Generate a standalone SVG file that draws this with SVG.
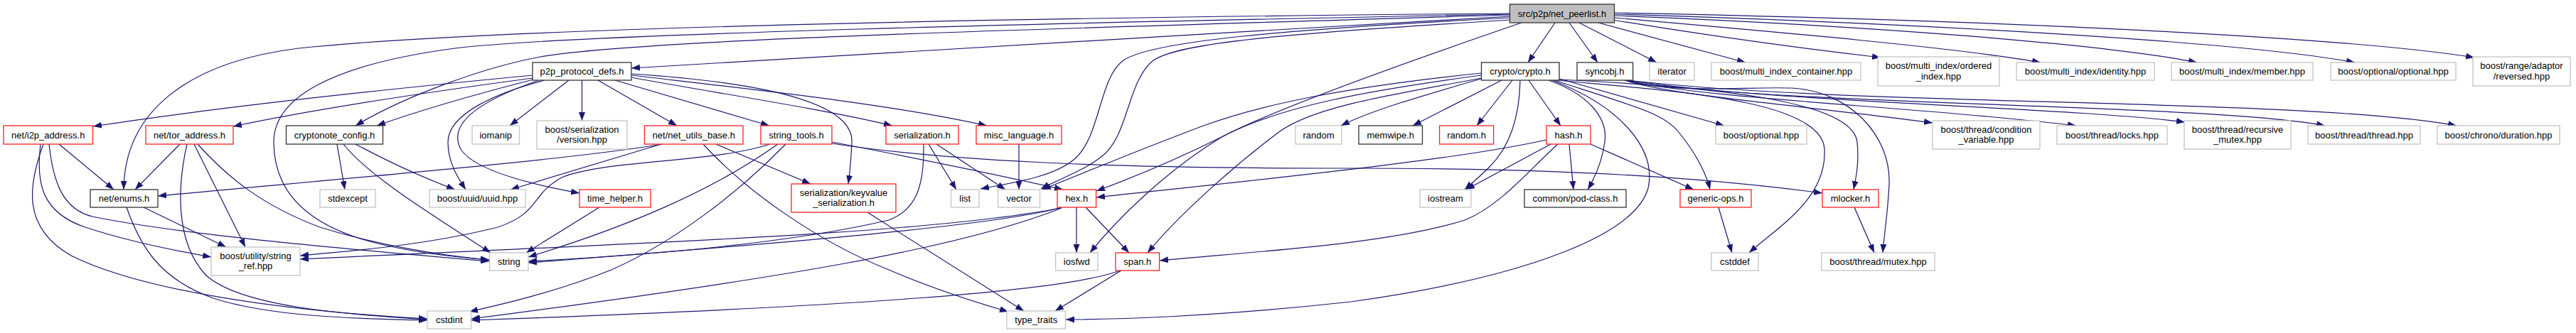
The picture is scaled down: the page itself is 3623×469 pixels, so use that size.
<svg xmlns="http://www.w3.org/2000/svg" width="3623" height="469" viewBox="0 0 3623 469">
<defs>
<marker id="a" viewBox="0 0 12 9" markerWidth="12" markerHeight="9" refX="12" refY="4.5" orient="auto" markerUnits="userSpaceOnUse">
<path d="M0,0 L12,4.5 L0,9 z" fill="#191970"/>
</marker>
</defs>
<style>
.n rect{fill:#ffffff;stroke-width:1.3}
.blk rect{stroke:#333333}
.red rect{stroke:#ff2020}
.gry rect{stroke:#c4c4c4}
.top rect{fill:#bfbfbf;stroke:#333333}
text{font-family:"Liberation Sans",Arial,sans-serif;font-size:13px;fill:#000000;text-anchor:middle}
.e path{fill:none;stroke:#191970;stroke-width:1.2;marker-end:url(#a)}
</style>
<rect x="0" y="0" width="3623" height="469" fill="#ffffff"/>
<g id="edges" class="e">
<path d="M2187,32 L2149,88"/>
<path d="M2207,32 L2247,88"/>
<path d="M2221,32 L2330,88"/>
<path d="M2248,32 L2455,88"/>
<path d="M2268,28 C2400,50 2550,70 2645,81"/>
<path d="M2271,25 C2500,45 2760,68 2870,88"/>
<path d="M2271,22 C2600,35 2950,60 3090,88"/>
<path d="M2271,20 C2700,33 3150,58 3312,88"/>
<path d="M2271,18 C2800,28 3300,52 3480,81"/>
<path d="M2124,23 C1700,48 1200,75 888,96"/>
<path d="M2124,21 C1500,40 900,55 760,80 C680,95 570,135 500,177"/>
<path d="M2124,19 C1500,24 700,38 420,68 C260,88 175,160 174,267"/>
<path d="M2124,20 C1500,32 800,48 640,68 C460,92 385,140 385,200 C385,275 440,318 520,340 C580,356 640,362 688,366"/>
<path d="M2124,25 C1800,42 1620,58 1580,85 C1545,110 1548,195 1510,225 C1480,250 1420,258 1379,266"/>
<path d="M2124,28 C1800,48 1660,60 1622,85 C1585,115 1588,190 1550,220 C1525,240 1490,252 1464,266"/>
<path d="M2140,32 C2000,80 1800,150 1720,192 C1640,240 1570,310 1533,356"/>
<path d="M2138,113 C2137,170 2120,210 2095,235 C2082,248 2070,258 2060,267"/>
<path d="M2150,113 L2195,177"/>
<path d="M2178,113 C2232,132 2262,165 2257,200 C2253,230 2242,252 2233,267"/>
<path d="M2183,113 C2280,150 2330,210 2318,265 C2300,330 2150,390 1900,425 C1700,447 1560,450 1499,450"/>
<path d="M2186,113 C2300,150 2340,160 2360,185 C2385,215 2400,245 2405,267"/>
<path d="M2190,110 L2425,177"/>
<path d="M2190,113 C2350,128 2562,140 2566,210 C2570,280 2500,320 2460,356"/>
<path d="M2192,112 C2400,122 2605,140 2612,200 C2615,230 2610,252 2607,267"/>
<path d="M2083,111 C2000,135 1930,155 1886,177"/>
<path d="M2112,113 L1987,177"/>
<path d="M2127,113 L2077,177"/>
<path d="M2083,103 C1900,122 1780,145 1690,178 C1600,212 1520,245 1466,267"/>
<path d="M2083,106 C1920,128 1800,150 1720,192 C1640,232 1580,255 1542,269"/>
<path d="M2084,110 C1950,135 1850,150 1800,185 C1740,230 1660,300 1614,356"/>
<path d="M2285,113 C2350,135 2550,150 2718,173"/>
<path d="M2287,113 C2400,140 2700,150 2920,177"/>
<path d="M2288,113 C2500,145 2900,150 3073,172"/>
<path d="M2289,113 C2500,150 3100,145 3270,177"/>
<path d="M2290,113 C2600,150 3250,138 3455,177"/>
<path d="M2286,113 C2350,132 2450,122 2520,124 C2600,128 2660,190 2657,260 C2655,300 2650,330 2648,356"/>
<path d="M800,113 L717,177"/>
<path d="M818.5,113 L818.5,170"/>
<path d="M841,113 L952,177"/>
<path d="M865,113 L1082,177"/>
<path d="M888,109 C1000,130 1150,152 1255,177"/>
<path d="M888,106 C1050,125 1250,146 1388,177"/>
<path d="M888,104 C1100,118 1200,150 1198,200 C1197,225 1195,245 1193,259"/>
<path d="M766,113 C700,130 630,160 630,200 C630,230 645,252 655,267"/>
<path d="M758,113 C680,140 628,172 648,210 C668,242 760,262 815,272"/>
<path d="M750,112 C680,130 600,152 530,177"/>
<path d="M749,106 C550,125 300,152 131,178"/>
<path d="M749,110 C600,130 450,152 328,178"/>
<path d="M83,203 L160,267"/>
<path d="M57,203 C50,260 60,300 120,320 C180,340 240,352 297,362"/>
<path d="M61,203 C40,260 30,320 100,360 C200,410 400,438 601,449"/>
<path d="M69,203 C75,260 90,295 130,305 C250,330 500,352 688,368"/>
<path d="M253,203 L190,267"/>
<path d="M263,203 C250,260 245,340 290,388 C340,432 480,442 601,450"/>
<path d="M273,203 L345,348"/>
<path d="M278,203 C320,250 370,290 450,320 C530,345 620,360 688,366"/>
<path d="M202,292 L318,348"/>
<path d="M178,292 C195,340 220,392 300,420 C380,446 500,449 601,451"/>
<path d="M474,203 L485,267"/>
<path d="M483,203 C520,250 620,310 690,356"/>
<path d="M500,203 C550,230 600,252 640,267"/>
<path d="M932,203 C800,225 500,250 222,276"/>
<path d="M930,203 L718,267"/>
<path d="M1007,203 L1140,259"/>
<path d="M989,203 C1050,270 1150,340 1250,380 C1320,410 1380,428 1418,439"/>
<path d="M1083,203 C1000,230 850,225 790,250 C745,275 760,300 700,320 C600,345 500,353 422,360"/>
<path d="M1094,203 C1000,270 880,320 743,362"/>
<path d="M1105,203 C1040,270 950,340 860,380 C780,412 700,430 660,439"/>
<path d="M1170,200 C1300,225 1420,250 1495,267"/>
<path d="M1170,202 C1350,230 1600,237 1900,237 C2200,237 2400,250 2563,272"/>
<path d="M1220,299 L1440,438"/>
<path d="M843,292 L740,356"/>
<path d="M1306,203 L1345,267"/>
<path d="M1317,203 L1414,267"/>
<path d="M1299,203 C1300,260 1290,295 1250,310 C1100,345 900,360 743,368"/>
<path d="M1433,203 L1433,267"/>
<path d="M1514,292 L1514,356"/>
<path d="M1527,292 L1588,356"/>
<path d="M1493,292 C1400,320 1000,350 743,370"/>
<path d="M1492,293 C1300,330 900,342 422,365"/>
<path d="M1493,293 C1350,350 1100,392 663,449"/>
<path d="M1577,381 L1484,438"/>
<path d="M1575,381 C1500,410 1200,432 663,451"/>
<path d="M2175,197 C2050,225 1800,250 1542,278"/>
<path d="M2181,203 L2062,267"/>
<path d="M2191,203 C2150,240 2110,290 2060,310 C1950,345 1750,355 1631,367"/>
<path d="M2207,203 L2213,267"/>
<path d="M2237,203 L2382,267"/>
<path d="M2417,292 L2436,356"/>
<path d="M2608,292 L2636,356"/>
</g>
<g id="n_peerlist" class="n top"><rect x="2123.5" y="6" width="147" height="26"/><text x="2197" y="23.5">src/p2p/net_peerlist.h</text></g>
<g id="n_p2p" class="n blk"><rect x="749" y="88" width="139" height="25"/><text x="818.5" y="105">p2p_protocol_defs.h</text></g>
<g id="n_crypto" class="n blk"><rect x="2083.5" y="88" width="109.5" height="25"/><text x="2138" y="105">crypto/crypto.h</text></g>
<g id="n_syncobj" class="n blk"><rect x="2218" y="88" width="78.6" height="25"/><text x="2257" y="105">syncobj.h</text></g>
<g id="n_iterator" class="n gry"><rect x="2320" y="88" width="63" height="25"/><text x="2351.5" y="105">iterator</text></g>
<g id="n_mic" class="n gry"><rect x="2407" y="88" width="210" height="25"/><text x="2512" y="105">boost/multi_index_container.hpp</text></g>
<g id="n_ordered" class="n gry"><rect x="2641" y="80" width="171" height="41"/><text x="2726.5" y="97">boost/multi_index/ordered</text><text x="2726.5" y="111.5">_index.hpp</text></g>
<g id="n_identity" class="n gry"><rect x="2836" y="88" width="194" height="25"/><text x="2933" y="105">boost/multi_index/identity.hpp</text></g>
<g id="n_member" class="n gry"><rect x="3054" y="88" width="199" height="25"/><text x="3153.5" y="105">boost/multi_index/member.hpp</text></g>
<g id="n_optopt" class="n gry"><rect x="3278" y="88" width="176" height="25"/><text x="3366" y="105">boost/optional/optional.hpp</text></g>
<g id="n_reversed" class="n gry"><rect x="3478" y="80" width="137" height="41"/><text x="3546.5" y="97">boost/range/adaptor</text><text x="3546.5" y="111.5">/reversed.hpp</text></g>
<g id="n_i2p" class="n red"><rect x="5" y="177" width="125.5" height="26"/><text x="67.75" y="194.5">net/i2p_address.h</text></g>
<g id="n_tor" class="n red"><rect x="205" y="177" width="123" height="26"/><text x="266.5" y="194.5">net/tor_address.h</text></g>
<g id="n_cncfg" class="n blk"><rect x="402.5" y="177" width="136" height="26"/><text x="470.5" y="194.5">cryptonote_config.h</text></g>
<g id="n_iomanip" class="n gry"><rect x="664" y="177" width="66.5" height="26"/><text x="697.25" y="194.5">iomanip</text></g>
<g id="n_version" class="n gry"><rect x="755" y="170" width="127" height="40"/><text x="818.5" y="186.5">boost/serialization</text><text x="818.5" y="201">/version.hpp</text></g>
<g id="n_netutils" class="n red"><rect x="906.5" y="177" width="138.5" height="26"/><text x="975.75" y="194.5">net/net_utils_base.h</text></g>
<g id="n_strtools" class="n red"><rect x="1070" y="177" width="100" height="26"/><text x="1120" y="194.5">string_tools.h</text></g>
<g id="n_serialization" class="n red"><rect x="1246" y="177" width="102" height="26"/><text x="1297" y="194.5">serialization.h</text></g>
<g id="n_misclang" class="n red"><rect x="1373" y="177" width="120" height="26"/><text x="1433" y="194.5">misc_language.h</text></g>
<g id="n_random" class="n gry"><rect x="1822" y="177" width="65" height="26"/><text x="1854.5" y="194.5">random</text></g>
<g id="n_memwipe" class="n blk"><rect x="1911" y="177" width="89.5" height="26"/><text x="1955.75" y="194.5">memwipe.h</text></g>
<g id="n_randomh" class="n red"><rect x="2024.6" y="177" width="76" height="26"/><text x="2062.6" y="194.5">random.h</text></g>
<g id="n_hash" class="n red"><rect x="2175" y="177" width="62" height="26"/><text x="2206" y="194.5">hash.h</text></g>
<g id="n_boptional" class="n gry"><rect x="2413" y="177" width="128" height="26"/><text x="2477" y="194.5">boost/optional.hpp</text></g>
<g id="n_condvar" class="n gry"><rect x="2718" y="170" width="151" height="40"/><text x="2793.5" y="186.5">boost/thread/condition</text><text x="2793.5" y="201">_variable.hpp</text></g>
<g id="n_locks" class="n gry"><rect x="2893" y="177" width="155" height="26"/><text x="2970.5" y="194.5">boost/thread/locks.hpp</text></g>
<g id="n_recursive" class="n gry"><rect x="3072" y="170" width="150" height="40"/><text x="3147" y="186.5">boost/thread/recursive</text><text x="3147" y="201">_mutex.hpp</text></g>
<g id="n_thread" class="n gry"><rect x="3246" y="177" width="158" height="26"/><text x="3325" y="194.5">boost/thread/thread.hpp</text></g>
<g id="n_duration" class="n gry"><rect x="3428" y="177" width="172" height="26"/><text x="3514" y="194.5">boost/chrono/duration.hpp</text></g>
<g id="n_enums" class="n blk"><rect x="127" y="267" width="95" height="25"/><text x="174.5" y="284">net/enums.h</text></g>
<g id="n_stdexcept" class="n gry"><rect x="450" y="267" width="78" height="25"/><text x="489" y="284">stdexcept</text></g>
<g id="n_uuid" class="n gry"><rect x="604" y="267" width="135" height="25"/><text x="671.5" y="284">boost/uuid/uuid.hpp</text></g>
<g id="n_timehelper" class="n red"><rect x="815" y="267" width="100" height="25"/><text x="865" y="284">time_helper.h</text></g>
<g id="n_kvser" class="n red"><rect x="1113" y="259" width="147" height="40"/><text x="1186.5" y="275.5">serialization/keyvalue</text><text x="1186.5" y="290">_serialization.h</text></g>
<g id="n_list" class="n gry"><rect x="1337.6" y="267" width="39.4" height="25"/><text x="1357.3" y="284">list</text></g>
<g id="n_vector" class="n gry"><rect x="1403.6" y="267" width="59" height="25"/><text x="1433.1" y="284">vector</text></g>
<g id="n_hex" class="n red"><rect x="1487" y="267" width="54.6" height="25"/><text x="1514.3" y="284">hex.h</text></g>
<g id="n_iostream" class="n gry"><rect x="1997" y="267" width="72" height="25"/><text x="2033" y="284">iostream</text></g>
<g id="n_podclass" class="n blk"><rect x="2144" y="267" width="143" height="25"/><text x="2215.5" y="284">common/pod-class.h</text></g>
<g id="n_genericops" class="n red"><rect x="2363" y="267" width="100" height="25"/><text x="2413" y="284">generic-ops.h</text></g>
<g id="n_mlocker" class="n red"><rect x="2563" y="267" width="79" height="25"/><text x="2602.5" y="284">mlocker.h</text></g>
<g id="n_stringref" class="n gry"><rect x="297" y="348" width="125" height="40"/><text x="359.5" y="364.5">boost/utility/string</text><text x="359.5" y="379">_ref.hpp</text></g>
<g id="n_string" class="n gry"><rect x="688.6" y="356" width="54.4" height="25"/><text x="715.8" y="373">string</text></g>
<g id="n_iosfwd" class="n gry"><rect x="1484.7" y="356" width="59.3" height="25"/><text x="1514.3" y="373">iosfwd</text></g>
<g id="n_span" class="n red"><rect x="1569" y="356" width="61.6" height="25"/><text x="1599.8" y="373">span.h</text></g>
<g id="n_cstddef" class="n gry"><rect x="2407" y="356" width="66" height="25"/><text x="2440" y="373">cstddef</text></g>
<g id="n_mutex" class="n gry"><rect x="2562" y="356" width="159" height="25"/><text x="2641.5" y="373">boost/thread/mutex.hpp</text></g>
<g id="n_cstdint" class="n gry"><rect x="601" y="438" width="61.5" height="25"/><text x="631.75" y="455">cstdint</text></g>
<g id="n_typetraits" class="n gry"><rect x="1416" y="438" width="82.5" height="25"/><text x="1457.25" y="455">type_traits</text></g>
</svg>
